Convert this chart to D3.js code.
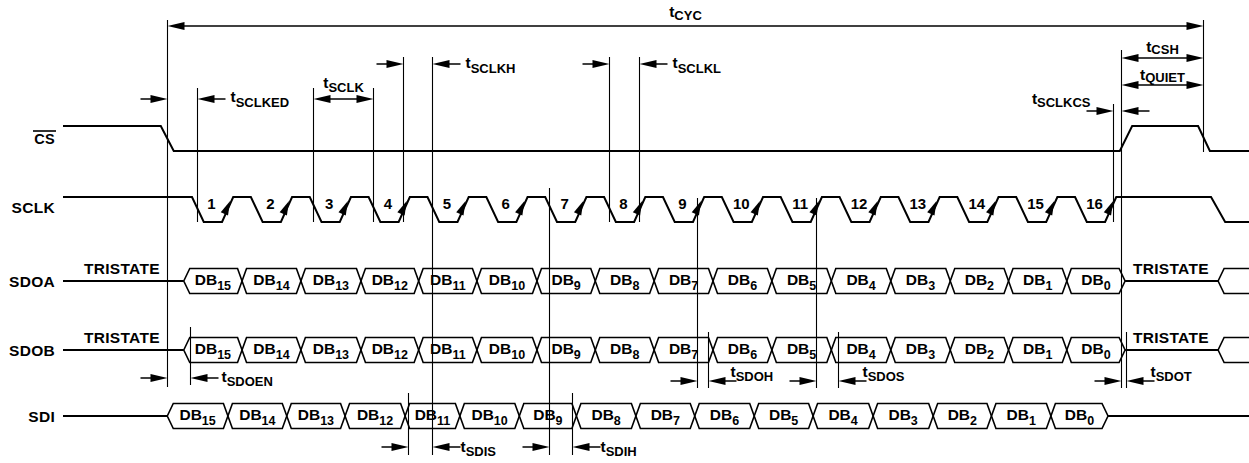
<!DOCTYPE html>
<html>
<head>
<meta charset="utf-8">
<script src="https://cdn.jsdelivr.net/npm/d3@7"></script>
<style>
body { margin: 0; background: #fff; }
text { font-family: "Liberation Sans", Arial, sans-serif; font-weight: bold; fill: #000; }
</style>
</head>
<body>
<script>
// signal rows, top to bottom
var signals = ["CS", "SCLK", "SDOA", "SDOB", "SDI"];
var clockCycles = [1, 2, 3, 4, 5, 6, 7, 8, 9, 10, 11, 12, 13, 14, 15, 16];
var dataBits = ["15", "14", "13", "12", "11", "10", "9", "8", "7", "6", "5", "4", "3", "2", "1", "0"];

// times are in SCLK periods, 0 = first falling SCLK edge
var csEdges = [-0.53, -0.31, 15.76, 15.97, 17.09, 17.29];      // fall, rise, fall
var clockShape = [0.2, 0.51, 0.70];                           // fall end, rise start, rise end
var clockEnd = [17.31, 17.55];
var sdoEdges = [-0.14, 0.85, 1.85, 2.87, 3.85, 4.84, 5.86, 6.85, 7.85, 8.85, 9.85, 10.86, 11.87, 12.88, 13.87, 14.86, 15.85];
var sdiEdges = [-0.42, 0.61, 1.61, 2.60, 3.62, 4.55, 5.56, 6.53, 7.54, 8.54, 9.55, 10.55, 11.57, 12.59, 13.58, 14.59, 15.56];
var tristateEnd = 17.43;

// timing parameters
var timingNames = ["CYC", "SCLKED", "SCLK", "SCLKH", "SCLKL", "CSH", "QUIET", "SCLKCS", "SDOEN", "SDOH", "SDOS", "SDOT", "SDIS", "SDIH"];
var timingStart = [-0.425, -0.425, 2.055, 3.585, 7.083, 15.78, 15.78, 15.645, -0.425, 8.578, 10.60, 15.78, 3.669, 6.064];
var timingEnd = [17.17, 0.085, 3.075, 4.077, 7.593, 17.17, 17.17, 15.78, -0.034, 8.765, 10.973, 15.865, 4.077, 6.455];

var W = 1249, H = 463;
var svg = d3.select("body").append("svg").attr("width", W).attr("height", H);

var x = d3.scaleLinear().domain([0, 16]).range([192, 192 + 16 * 58.87]);
var row = d3.scaleOrdinal().domain(signals).range([138.5, 209.5, 281, 350, 416]);
var half = 12.5, x0 = 63;
var line = d3.line();

function T(name) { return timingStart[timingNames.indexOf(name)]; }
function E(name) { return timingEnd[timingNames.indexOf(name)]; }

// row labels
signals.forEach(function (s) {
    svg.append("text").attr("x", 55).attr("y", row(s) + (s == "SCLK" ? 3 : 5.5))
        .attr("text-anchor", "end").style("font-size", s == "CS" ? "14.5px" : "15.5px")
        .style("letter-spacing", "0.3px").text(s);
});
svg.append("line").attr("x1", 33).attr("x2", 56).attr("y1", 131).attr("y2", 131)
    .attr("stroke", "#000").attr("stroke-width", 1.6);

// CS
var cy = row("CS"), csHi = cy - half, csLo = cy + half;
svg.append("path").attr("fill", "none").attr("stroke", "#000").attr("stroke-width", 2)
    .attr("d", line([[x0, csHi], [x(csEdges[0]), csHi], [x(csEdges[1]), csLo], [x(csEdges[2]), csLo],
        [x(csEdges[3]), csHi], [x(csEdges[4]), csHi], [x(csEdges[5]), csLo], [W, csLo]]));

// SCLK
var ky = row("SCLK"), kHi = ky - half, kLo = ky + half;
var kPts = [[x0, kHi]];
clockCycles.forEach(function (c) {
    var s = c - 1;
    kPts.push([x(s), kHi], [x(s + clockShape[0]), kLo], [x(s + clockShape[1]), kLo], [x(s + clockShape[2]), kHi]);
});
kPts.push([x(clockEnd[0]), kHi], [x(clockEnd[1]), kLo], [W, kLo]);
svg.append("path").attr("fill", "none").attr("stroke", "#000").attr("stroke-width", 2).attr("d", line(kPts));

clockCycles.forEach(function (c) {
    var s = c - 1;
    svg.append("text").attr("x", x(s + 0.33)).attr("y", kHi + 11.5).attr("text-anchor", "middle")
        .style("font-size", "15px").text(c);
    // arrow on the rising edge
    var ax = x(s + clockShape[1]), bx = x(s + clockShape[2]);
    var dx = bx - ax, dy = kHi - kLo, len = Math.sqrt(dx * dx + dy * dy);
    var ux = dx / len, uy = dy / len, px = -uy, py = ux;
    var tipX = ax + dx * 0.82 - px * 1.2, tipY = kLo + dy * 0.82 - py * 1.2;
    var bX = tipX - ux * 14, bY = tipY - uy * 14;
    svg.append("path").attr("fill", "#000")
        .attr("d", line([[tipX, tipY], [bX + px * 4, bY + py * 4], [bX - px * 4, bY - py * 4]]) + "Z");
});

// buses
function bus(name, edges, tristate) {
    var c = row(name), top = c - half, bot = c + half;
    var g = svg.append("g");
    g.append("path").attr("fill", "none").attr("stroke", "#000").attr("stroke-width", 2)
        .attr("d", line([[x0, c], [x(edges[0]), c]]));
    dataBits.forEach(function (b, i) {
        var a = x(edges[i]), z = x(edges[i + 1]);
        var ha = i == 0 ? 6 : 4.5, hz = i == dataBits.length - 1 ? 6 : 4.5;
        g.append("path").attr("fill", "none").attr("stroke", "#000").attr("stroke-width", 1.6)
            .attr("d", line([[a, c], [a + ha, top], [z - hz, top], [z, c], [z - hz, bot], [a + ha, bot]]) + "Z");
        var t = g.append("text").attr("x", (a + z) / 2).attr("y", c + 4).attr("text-anchor", "middle")
            .style("font-size", "15.5px");
        t.append("tspan").text("DB");
        t.append("tspan").attr("dy", 4.5).style("font-size", "12.5px").text(b);
    });
    var e = x(edges[edges.length - 1]);
    if (tristate) {
        var r = x(tristateEnd);
        g.append("path").attr("fill", "none").attr("stroke", "#000").attr("stroke-width", 2)
            .attr("d", line([[e, c], [r, c]]));
        g.append("path").attr("fill", "none").attr("stroke", "#000").attr("stroke-width", 1.6)
            .attr("d", line([[W + 5, top], [r + 6, top], [r, c], [r + 6, bot], [W + 5, bot]]));
        [84, 1133].forEach(function (tx) {
            g.append("text").attr("x", tx).attr("y", c - 7.5).style("font-size", "15.5px")
                .style("letter-spacing", "0.3px").text("TRISTATE");
        });
    } else {
        g.append("path").attr("fill", "none").attr("stroke", "#000").attr("stroke-width", 2)
            .attr("d", line([[e, c], [W, c]]));
    }
}
bus("SDOA", sdoEdges, true);
bus("SDOB", sdoEdges, true);
bus("SDI", sdiEdges, false);

// guide lines [time, top, bottom]
var guides = [
    [T("CYC"), 20, 387], [E("CYC"), 20, 152],
    [E("SCLKED"), 88, 222], [T("SCLK"), 88, 222], [E("SCLK"), 88, 222],
    [T("SCLKH"), 57, 222], [E("SCLKH"), 57, 455],
    [T("SCLKL"), 57, 222], [E("SCLKL"), 57, 222],
    [T("CSH"), 50, 388], [T("SCLKCS"), 104, 222],
    [E("SDOEN"), 327, 385],
    [T("SDOH"), 198, 388], [E("SDOH"), 332, 388],
    [T("SDOS"), 198, 388], [E("SDOS"), 332, 388],
    [E("SDOT"), 332, 388],
    [T("SDIS"), 393, 455], [T("SDIH"), 188, 455], [E("SDIH"), 393, 455]
];
svg.append("g").selectAll("line").data(guides).enter().append("line")
    .attr("x1", function (d) { return Math.round(x(d[0])) + 0.5; })
    .attr("x2", function (d) { return Math.round(x(d[0])) + 0.5; })
    .attr("y1", function (d) { return d[1]; }).attr("y2", function (d) { return d[2]; })
    .attr("stroke", "#000").attr("stroke-width", 1.1);

function head(tip, y, dir) {
    svg.append("path").attr("fill", "#000")
        .attr("d", line([[tip, y], [tip - dir * 17, y - 4], [tip - dir * 17, y + 4]]) + "Z");
}
function shaft(a, b, y) {
    svg.append("line").attr("x1", a).attr("x2", b).attr("y1", y).attr("y2", y)
        .attr("stroke", "#000").attr("stroke-width", 1.5);
}
function label(lx, ly, sub, anchor, sdy) {
    var t = svg.append("text").attr("x", lx).attr("y", ly).attr("text-anchor", anchor || "start");
    t.append("tspan").style("font-size", "15.5px").text("t");
    t.append("tspan").attr("dy", sdy).style("font-size", "13px").text(sub);
}

// per-parameter layout: arrow y, style, label position
var layout = {
    CYC:    {y: 26,  style: "in",  lx: "mid", ty: -9,  sdy: 2.5},
    SCLKED: {y: 99,  style: "out", lx: 33, ty: 3,  sdy: 4.5},
    SCLK:   {y: 99,  style: "in",  lx: "mid", ty: -11, sdy: 4},
    SCLKH:  {y: 64,  style: "out", lx: 33, ty: 4,  sdy: 4.7},
    SCLKL:  {y: 64,  style: "out", lx: 33, ty: 4,  sdy: 4.7},
    CSH:    {y: 58,  style: "in",  lx: "mid", ty: -6, sdy: 1.5},
    QUIET:  {y: 85,  style: "in",  lx: "mid", ty: -5, sdy: 1.7},
    SCLKCS: {y: 111, style: "out", lx: "left", ty: -7, sdy: 2.7},
    SDOEN:  {y: 378, style: "out", lx: 31, ty: 4,  sdy: 4},
    SDOH:   {y: 381, style: "out", lx: 22, ty: -4, sdy: 4},
    SDOS:   {y: 381, style: "out", lx: 24, ty: -4, sdy: 4},
    SDOT:   {y: 381, style: "out", lx: 24, ty: -4, sdy: 4},
    SDIS:   {y: 447, style: "out", lx: 28, ty: 4.7, sdy: 4},
    SDIH:   {y: 447, style: "out", lx: 28, ty: 4.7, sdy: 4}
};

timingNames.forEach(function (n, i) {
    var L = layout[n], a = Math.round(x(timingStart[i])) + 0.5, b = Math.round(x(timingEnd[i])) + 0.5, y = L.y;
    if (L.style == "in") {
        shaft(a + 10, b - 10, y);
        head(a, y, -1);
        head(b, y, 1);
    } else {
        shaft(a - 27, a - 12, y); head(a, y, 1);
        shaft(b + 12, b + 28, y); head(b, y, -1);
    }
    if (L.lx == "mid") label((a + b) / 2, y + L.ty, n, "middle", L.sdy);
    else if (L.lx == "left") label(a - 23, y + L.ty, n, "end", L.sdy);
    else label(b + L.lx, y + L.ty, n, "start", L.sdy);
});
</script>
</body>
</html>
